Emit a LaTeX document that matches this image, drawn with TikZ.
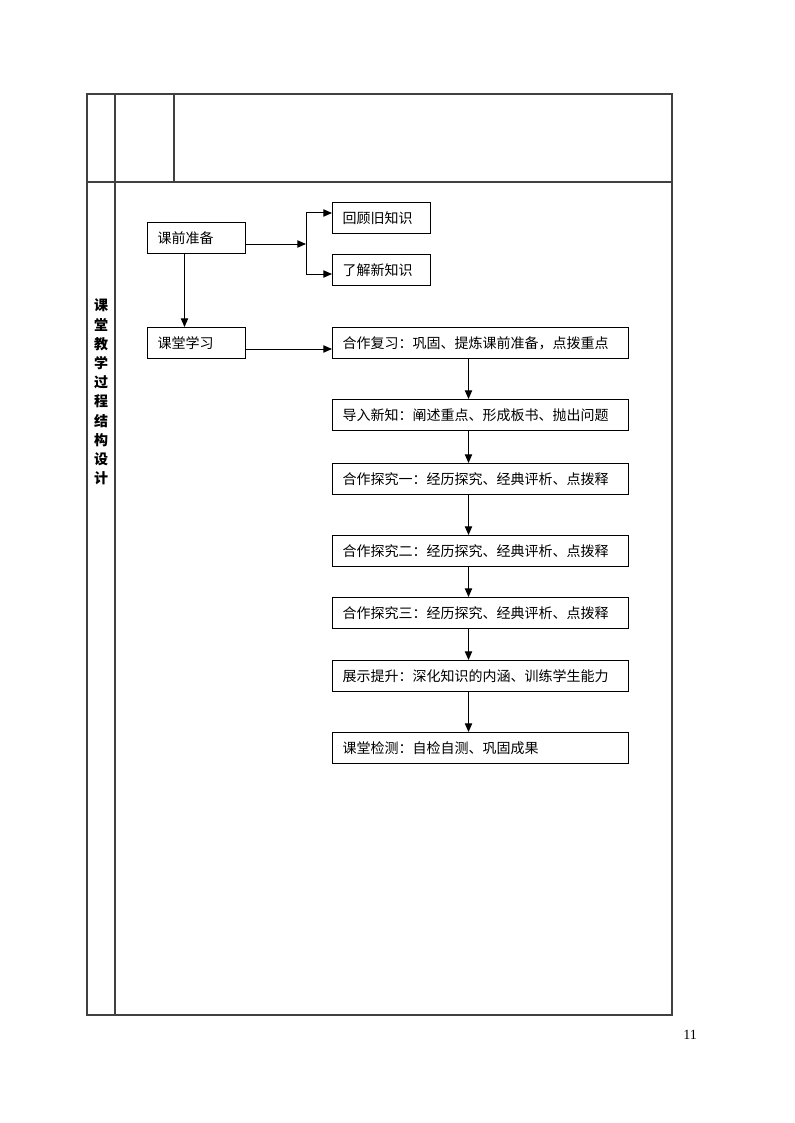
\documentclass[tikz,border=0pt]{standalone}
\usepackage{fontspec}
\setmainfont{Liberation Serif}
\newfontfamily\cjk{Noto Sans CJK SC}
\usepackage{tikz}
\usetikzlibrary{arrows.meta,positioning,calc}

\tikzset{
  tableline/.style={draw=black!75, line width=0.85pt},
  flowbox/.style={draw, line width=0.75pt, anchor=north west, align=left,
    inner xsep=7.5pt, inner ysep=0pt, minimum height=23.25pt,
    font=\cjk\fontsize{10.5}{12}\selectfont},
  shortbox/.style={flowbox, text width=58.5pt},
  longbox/.style={flowbox, text width=207pt},
  arr/.style={-{Triangle[length=6.5pt,width=5.5pt]}, line width=0.75pt}
}

\begin{document}
\begin{tikzpicture}[x=0.75pt, y=-0.75pt]
  \useasboundingbox (0,0) rectangle (794,1123);

  % The table frame
  \draw[tableline] (87,94) rectangle (672,1015);
  \draw[tableline] (87,182) -- (672,182);
  \draw[tableline] (115,94) -- (115,1015);
  \draw[tableline] (174,94) -- (174,182);

  % Row title, one character per line
  \node[align=center, font=\cjk\bfseries\fontsize{10.5}{14.4}\selectfont]
    (rowtitle) at (101,392)
    {课\\堂\\教\\学\\过\\程\\结\\构\\设\\计};

  % Preparation before class
  \node[shortbox] (prep) at (147,222) {课前准备};
  \node[shortbox] (review) at (332,202) {回顾旧知识};
  \node[shortbox] (preview) at (332,254) {了解新知识};

  \coordinate (fork) at (306,244);
  \draw[arr] (prep.east |- fork) -- (fork);
  \draw[arr] (fork) |- ($(review.west)+(0,-5)$);
  \draw[arr] (fork) |- ($(preview.west)+(0,4)$);

  % Learning in class
  \node[shortbox] (study) at (147,327) {课堂学习};
  \draw[arr] ($(prep.south)+(-12,0)$) -- ($(study.north)+(-12,0)$);

  \node[longbox] (s1) at (332,327) {合作复习：巩固、提炼课前准备，点拨重点};
  \node[longbox] (s2) at (332,399) {导入新知：阐述重点、形成板书、抛出问题};
  \node[longbox] (s3) at (332,463) {合作探究一：经历探究、经典评析、点拨释};
  \node[longbox] (s4) at (332,535) {合作探究二：经历探究、经典评析、点拨释};
  \node[longbox] (s5) at (332,597) {合作探究三：经历探究、经典评析、点拨释};
  \node[longbox] (s6) at (332,660) {展示提升：深化知识的内涵、训练学生能力};
  \node[longbox] (s7) at (332,732) {课堂检测：自检自测、巩固成果};

  \draw[arr] ($(study.east)+(0,6)$) -- (s1.west |- {$(study.east)+(0,6)$});
  \foreach \a/\b in {s1/s2, s2/s3, s3/s4, s4/s5, s5/s6, s6/s7}
    \draw[arr] ($(\a.south)+(-12,0)$) -- ($(\b.north)+(-12,0)$);

  % Page number
  \node[font=\fontsize{10.5}{12}\selectfont] (pageno) at (690,1035) {11};
\end{tikzpicture}
\end{document}
